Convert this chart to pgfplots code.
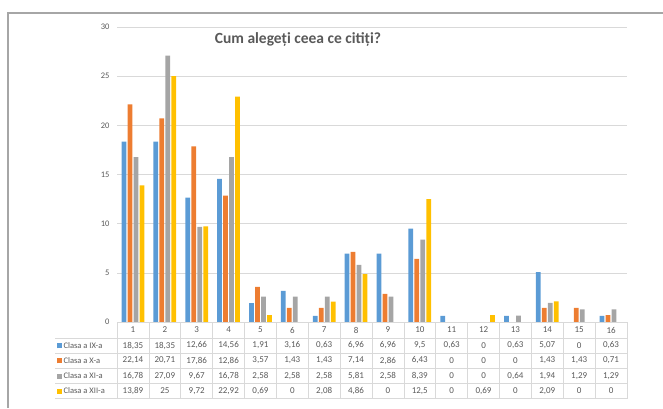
\documentclass[border=0pt]{standalone}
\usepackage{pgfplots}
\pgfplotsset{compat=1.18}
\usepackage{pgfplotstable}
\usepackage{fontspec}
\setmainfont{Carlito}
\definecolor{cIX}{HTML}{5B9BD5}
\definecolor{cX}{HTML}{ED7D31}
\definecolor{cXI}{HTML}{A5A5A5}
\definecolor{cXII}{HTML}{FFC000}
\definecolor{txtgray}{HTML}{595959}
\definecolor{gridgray}{HTML}{D9D9D9}
\definecolor{framegray}{HTML}{A6A6A6}
\pgfplotstableread{
cat c9 c10 c11 c12
1 18.35 22.14 16.78 13.89
2 18.35 20.71 27.09 25
3 12.66 17.86 9.67 9.72
4 14.56 12.86 16.78 22.92
5 1.91 3.57 2.58 0.69
6 3.16 1.43 2.58 0
7 0.63 1.43 2.58 2.08
8 6.96 7.14 5.81 4.86
9 6.96 2.86 2.58 0
10 9.5 6.43 8.39 12.5
11 0.63 0 0 0
12 0 0 0 0.69
13 0.63 0 0.64 0
14 5.07 1.43 1.94 2.09
15 0 1.43 1.29 0
16 0.63 0.71 1.29 0
}\datatable
\begin{document}
\begin{tikzpicture}[x=1pt,y=1pt]
\useasboundingbox (0,0) rectangle (663,408);
\draw[framegray, line width=1.2pt] (8,0) -- (8,395) -- (663,395);
\begin{axis}[
  at={(117pt,86pt)}, anchor=south west,
  scale only axis, width=510pt, height=295pt,
  xmin=0.5, xmax=16.5, ymin=0, ymax=30,
  ytick={0,5,...,30}, xtick=\empty,
  ymajorgrids, grid style={draw=gridgray, line width=0.6pt},
  axis line style={draw=none},
  major tick length=0pt,
  yticklabel style={font=\fontsize{8.5}{10}\selectfont, text=txtgray, xshift=-4pt},
  /pgf/number format/assume math mode=true,
  clip=false,
]
\addplot[ybar, bar width=4.7pt, bar shift=-9pt, fill=cIX, draw=none] table[x=cat,y=c9]{\datatable};
\addplot[ybar, bar width=4.7pt, bar shift=-3pt, fill=cX, draw=none] table[x=cat,y=c10]{\datatable};
\addplot[ybar, bar width=4.7pt, bar shift=3pt, fill=cXI, draw=none] table[x=cat,y=c11]{\datatable};
\addplot[ybar, bar width=4.7pt, bar shift=9pt, fill=cXII, draw=none] table[x=cat,y=c12]{\datatable};
\end{axis}
% title
\node[font=\fontsize{15.5}{17}\selectfont\bfseries, text=txtgray] at (298,369) {Cum alegeți ceea ce citiți?};
% table grid
\draw[gridgray, line width=0.6pt] (117,86) -- (627,86);
\foreach \yy in {70,55,40,24.5,9.5} {\draw[gridgray, line width=0.6pt] (55,\yy) -- (627,\yy);}
\foreach \k in {0,...,16} {\draw[gridgray, line width=0.6pt] ({117+\k*31.875},86) -- ({117+\k*31.875},9.5);}
% category labels
\foreach \i in {1,...,16} {\node[font=\fontsize{9}{10}\selectfont, text=txtgray] at ({117+(\i-0.5)*31.875},78) {\i};}
% row labels
\node[anchor=west, font=\fontsize{8.5}{10}\selectfont, text=txtgray, inner sep=0pt] at (57,62.5) {\textcolor{cIX}{\rule{5pt}{5pt}}\,Clasa a IX-a};
\node[anchor=west, font=\fontsize{8.5}{10}\selectfont, text=txtgray, inner sep=0pt] at (57,47.5) {\textcolor{cX}{\rule{5pt}{5pt}}\,Clasa a X-a};
\node[anchor=west, font=\fontsize{8.5}{10}\selectfont, text=txtgray, inner sep=0pt] at (57,32) {\textcolor{cXI}{\rule{5pt}{5pt}}\,Clasa a XI-a};
\node[anchor=west, font=\fontsize{8.5}{10}\selectfont, text=txtgray, inner sep=0pt] at (57,17) {\textcolor{cXII}{\rule{5pt}{5pt}}\,Clasa a XII-a};
% table values
\foreach \c/\yy in {c9/62.5, c10/47.5, c11/32, c12/17} {
  \foreach \r in {0,...,15} {
    \pgfplotstablegetelem{\r}{\c}\of\datatable
    \let\val\pgfplotsretval
    \node[font=\fontsize{9}{10}\selectfont, text=txtgray] at ({117+(\r+0.5)*31.875},\yy) {\pgfmathprintnumber[use comma, fixed, precision=2, assume math mode=true]{\val}};
  }
}
\end{tikzpicture}
\end{document}
